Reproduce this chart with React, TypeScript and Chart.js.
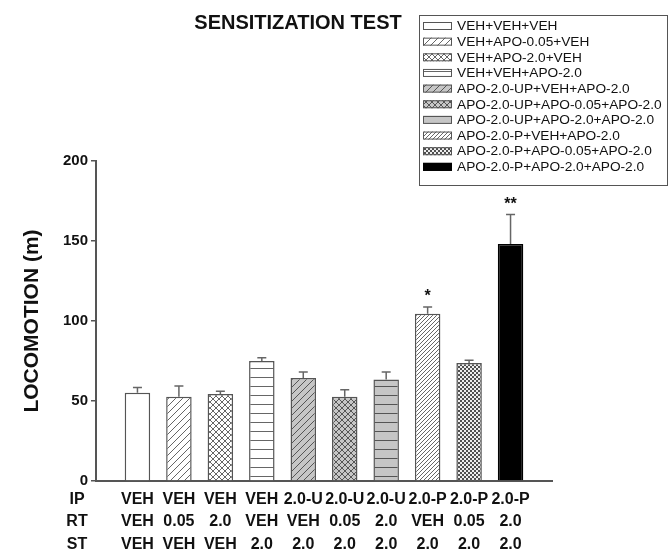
import React, { useEffect, useRef } from 'react';
import { Chart, registerables } from 'chart.js';

Chart.register(...registerables);

// ---------- DATA ----------
const chartTitle = 'SENSITIZATION TEST';
const yAxisTitle = 'LOCOMOTION (m)';
const groups = [
  'VEH+VEH+VEH',
  'VEH+APO-0.05+VEH',
  'VEH+APO-2.0+VEH',
  'VEH+VEH+APO-2.0',
  'APO-2.0-UP+VEH+APO-2.0',
  'APO-2.0-UP+APO-0.05+APO-2.0',
  'APO-2.0-UP+APO-2.0+APO-2.0',
  'APO-2.0-P+VEH+APO-2.0',
  'APO-2.0-P+APO-0.05+APO-2.0',
  'APO-2.0-P+APO-2.0+APO-2.0',
];
const rowLabels = ['IP', 'RT', 'ST'];
const ipLabels = ['VEH', 'VEH', 'VEH', 'VEH', '2.0-U', '2.0-U', '2.0-U', '2.0-P', '2.0-P', '2.0-P'];
const rtLabels = ['VEH', '0.05', '2.0', 'VEH', 'VEH', '0.05', '2.0', 'VEH', '0.05', '2.0'];
const stLabels = ['VEH', 'VEH', 'VEH', '2.0', '2.0', '2.0', '2.0', '2.0', '2.0', '2.0'];
const means = [55.2, 52.7, 54.4, 75.0, 64.4, 52.7, 63.5, 104.6, 73.8, 148.1];
const sems = [3.2, 6.7, 1.7, 2.1, 3.7, 4.4, 4.6, 4.2, 1.6, 18.4];
const significance = ['', '', '', '', '', '', '', '*', '', '**'];
const yMin = 0;
const yMax = 200;
const yStep = 50;

// ---------- STYLE ----------
const patternKinds = ['blank', 'diag', 'cross', 'horiz', 'diagGray', 'crossGray', 'horizGray', 'diagDense', 'checker', 'solid'];
const FONT = '"Liberation Sans", Arial, sans-serif';
const LINE = '#555';

function makeTile(size: number, bg: string, draw: (g: CanvasRenderingContext2D, s: number) => void): CanvasPattern | string {
  const c = document.createElement('canvas');
  c.width = size;
  c.height = size;
  const g = c.getContext('2d');
  if (!g) return bg;
  g.fillStyle = bg;
  g.fillRect(0, 0, size, size);
  draw(g, size);
  return g.createPattern(c, 'repeat') || bg;
}
function fwd(g: CanvasRenderingContext2D, s: number, color: string, lw: number) {
  g.strokeStyle = color;
  g.lineWidth = lw;
  g.beginPath();
  for (let k = -1; k <= 1; k++) {
    g.moveTo(k * s, s);
    g.lineTo(k * s + s, 0);
  }
  g.stroke();
}
function bwd(g: CanvasRenderingContext2D, s: number, color: string, lw: number) {
  g.strokeStyle = color;
  g.lineWidth = lw;
  g.beginPath();
  for (let k = -1; k <= 1; k++) {
    g.moveTo(k * s, 0);
    g.lineTo(k * s + s, s);
  }
  g.stroke();
}
function makePattern(kind: string): CanvasPattern | string {
  const gray = '#c6c6c6';
  switch (kind) {
    case 'diag':
      return makeTile(7, '#fff', (g, s) => fwd(g, s, '#666', 1));
    case 'cross':
      return makeTile(6, '#fff', (g, s) => { fwd(g, s, '#666', 1); bwd(g, s, '#666', 1); });
    case 'horiz':
      return makeTile(9, '#fff', (g, s) => { g.fillStyle = '#666'; g.fillRect(0, s - 1, s, 1); });
    case 'diagGray':
      return makeTile(7, gray, (g, s) => fwd(g, s, '#555', 1));
    case 'crossGray':
      return makeTile(6, gray, (g, s) => { fwd(g, s, '#555', 1); bwd(g, s, '#555', 1); });
    case 'horizGray':
      return makeTile(9, gray, (g, s) => { g.fillStyle = '#555'; g.fillRect(0, s - 1, s, 1); });
    case 'diagDense':
      return makeTile(4, '#fff', (g, s) => fwd(g, s, '#666', 1));
    case 'checker':
      return makeTile(4, '#eee', (g) => { g.fillStyle = '#505050'; g.fillRect(0, 0, 2, 2); g.fillRect(2, 2, 2, 2); });
    case 'solid':
      return '#000';
    default:
      return '#fff';
  }
}

const X_LABEL_FONT = 16;
const X_LABEL_LH = 1.41;
const X_LABEL_PAD = 7;

function makeDecorPlugin(pats: (CanvasPattern | string)[]) {
  return {
    id: 'decor',
    afterDatasetsDraw(chart: any) {
      const ctx: CanvasRenderingContext2D = chart.ctx;
      const meta = chart.getDatasetMeta(0);
      const ys = chart.scales.y;
      ctx.save();
      means.forEach((m, i) => {
        const el = meta.data[i + 1];
        if (!el) return;
        const x = el.x;
        const top = ys.getPixelForValue(m);
        const errTop = ys.getPixelForValue(m + sems[i]);
        ctx.strokeStyle = '#666';
        ctx.lineWidth = 1.5;
        ctx.beginPath();
        ctx.moveTo(x, top);
        ctx.lineTo(x, errTop);
        ctx.moveTo(x - 4.5, errTop);
        ctx.lineTo(x + 4.5, errTop);
        ctx.stroke();
        if (significance[i]) {
          ctx.fillStyle = '#111';
          ctx.font = `bold 16px ${FONT}`;
          ctx.textAlign = 'center';
          ctx.textBaseline = 'alphabetic';
          ctx.fillText(significance[i], x, errTop - 6);
        }
      });
      ctx.restore();
    },
    afterDraw(chart: any) {
      const ctx: CanvasRenderingContext2D = chart.ctx;
      ctx.save();
      // title
      ctx.fillStyle = '#111';
      ctx.font = `bold 20px ${FONT}`;
      ctx.textAlign = 'center';
      ctx.textBaseline = 'middle';
      ctx.fillText(chartTitle, 298, 23);
      // row labels of x axis table
      const xs = chart.scales.x;
      ctx.font = `bold ${X_LABEL_FONT}px ${FONT}`;
      const lh = X_LABEL_FONT * X_LABEL_LH;
      rowLabels.forEach((r, i) => {
        ctx.fillText(r, 77, xs.top + X_LABEL_PAD + lh * (i + 0.5));
      });
      // legend
      const bx = 419.5, by = 15.5, bw = 248, bh = 170;
      ctx.strokeStyle = LINE;
      ctx.lineWidth = 1;
      ctx.fillStyle = '#fff';
      ctx.fillRect(bx, by, bw, bh);
      ctx.strokeRect(bx, by, bw, bh);
      ctx.font = `13.7px ${FONT}`;
      ctx.textAlign = 'left';
      groups.forEach((g, i) => {
        const cy = 26 + i * 15.65;
        ctx.fillStyle = pats[i];
        ctx.fillRect(423, cy - 4, 29, 8);
        ctx.strokeStyle = i === 9 ? '#000' : LINE;
        ctx.strokeRect(423.5, cy - 3.5, 28, 7);
        ctx.fillStyle = '#111';
        ctx.fillText(g, 457, cy + 0.5);
      });
      ctx.restore();
    },
  };
}

export default function App() {
  const ref = useRef<HTMLCanvasElement | null>(null);
  useEffect(() => {
    if (!ref.current) return;
    const patterns = patternKinds.map(makePattern);
    const labels: (string | string[])[] = [''];
    ipLabels.forEach((ip, i) => labels.push([ip, rtLabels[i], stLabels[i]]));
    labels.push('');
    const chart = new Chart(ref.current, {
      type: 'bar',
      data: {
        labels,
        datasets: [
          {
            data: [null, ...means, null] as any,
            backgroundColor: ['transparent', ...patterns, 'transparent'] as any,
            borderColor: ['transparent', ...patternKinds.map((k) => (k === 'solid' ? '#000' : LINE)), 'transparent'],
            borderWidth: 1.5,
            barPercentage: 0.615,
            categoryPercentage: 1,
          },
        ],
      },
      options: {
        animation: false,
        responsive: false,
        layout: { padding: { top: 161, right: 120, left: 0, bottom: 0 } },
        plugins: { legend: { display: false }, tooltip: { enabled: false }, title: { display: false } },
        scales: {
          x: {
            offset: false,
            grid: { display: false, drawTicks: false },
            border: { display: true, color: LINE, width: 2 },
            ticks: {
              autoSkip: false,
              maxRotation: 0,
              padding: X_LABEL_PAD,
              color: '#111',
              font: { family: FONT, size: X_LABEL_FONT, weight: 'bold', lineHeight: X_LABEL_LH },
            },
            afterFit: (s: any) => { s.height = 70; },
          },
          y: {
            min: yMin,
            max: yMax,
            grid: { drawOnChartArea: false, drawTicks: true, tickLength: 5, color: LINE, lineWidth: 1.5 },
            border: { display: true, color: LINE, width: 2 },
            ticks: {
              stepSize: yStep,
              padding: 3,
              color: '#111',
              font: { family: FONT, size: 15, weight: 'bold' },
            },
            title: {
              display: true,
              text: yAxisTitle,
              color: '#111',
              font: { family: FONT, size: 21, weight: 'bold' },
              padding: { top: 20, bottom: 0 },
            },
            afterFit: (s: any) => { s.width = 96; },
          },
        },
      },
      plugins: [makeDecorPlugin(patterns)],
    } as any);
    return () => chart.destroy();
  }, []);
  return (
    <div style={{ position: 'fixed', left: 0, top: 0, width: 672, height: 551, background: '#fff' }}>
      <canvas ref={ref} width={672} height={551} style={{ display: 'block' }} />
    </div>
  );
}
